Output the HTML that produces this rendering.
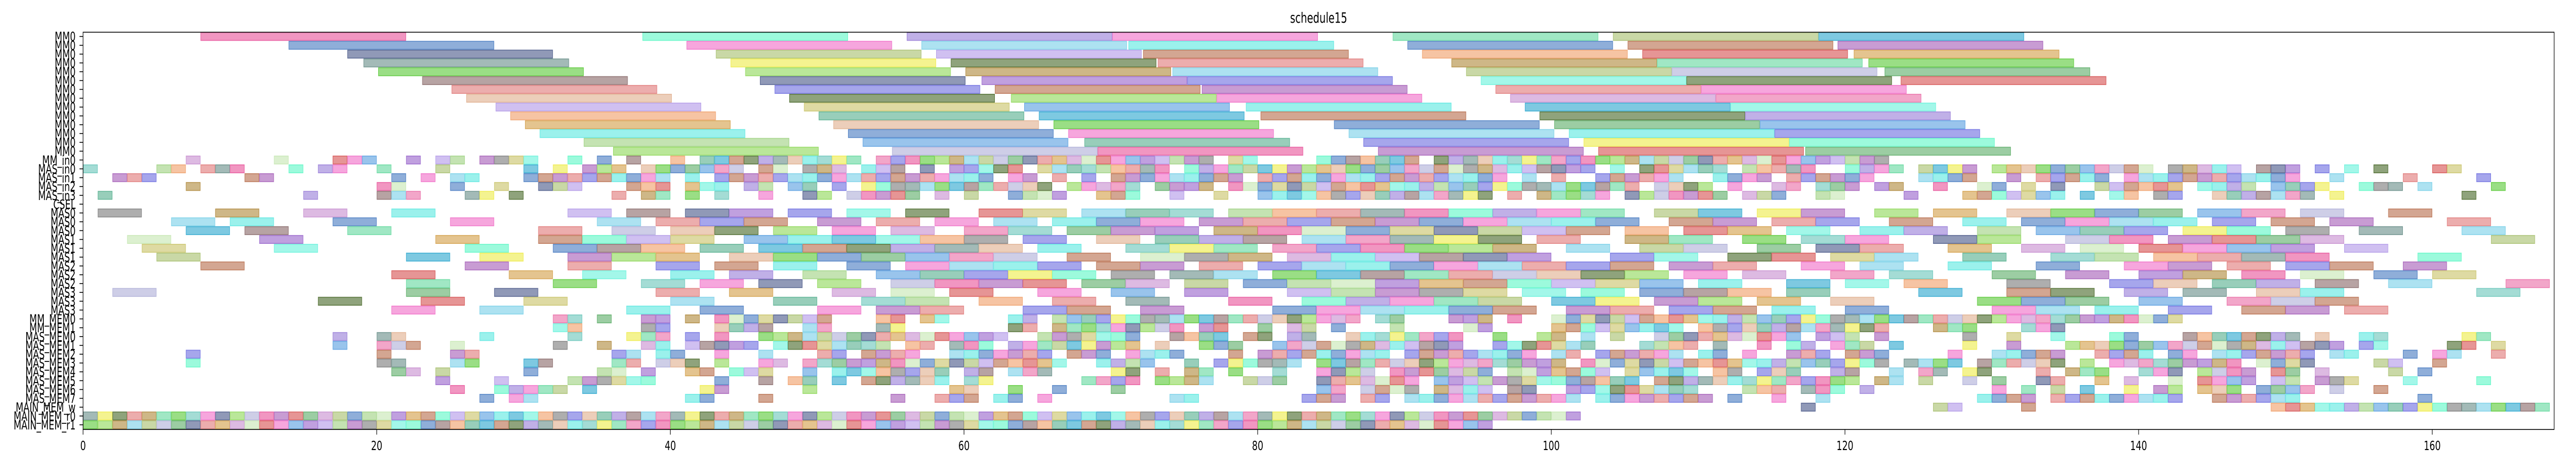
<!DOCTYPE html>
<html><head><meta charset="utf-8"><title>schedule15</title>
<style>
html,body{margin:0;padding:0;background:#fff;width:100%;height:100%;overflow:hidden;}
svg{display:block;width:100vw;height:100vh;font-family:"DejaVu Sans","Liberation Sans",sans-serif;}
</style></head>
<body>
<svg id="chart" viewBox="0 0 7267 900" preserveAspectRatio="none" xmlns="http://www.w3.org/2000/svg">
<text x="3720" y="44" font-size="28" text-anchor="middle">schedule15</text>
<g id="bars"></g>
<g id="axes"></g>
</svg>
<script>
// ---- data ----
const categories = [
 "MM0","MM0","MM0","MM0","MM0","MM0","MM0","MM0","MM0","MM0","MM0","MM0","MM0","MM0",
 "MM_in0","MAS_in0","MAS_in1","MAS_in2","MAS_in3","CSEL",
 "MAS0","MAS0","MAS0","MAS1","MAS1","MAS1","MAS2","MAS2","MAS2","MAS3","MAS3","MAS3",
 "MM_MEM0","MM_MEM1","MAS_MEM0","MAS_MEM1","MAS_MEM2","MAS_MEM3","MAS_MEM4","MAS_MEM5","MAS_MEM6","MAS_MEM7",
 "MAIN_MEM_w","MAIN_MEM_r0","MAIN_MEM_r1"];
const xTicks = [0,20,40,60,80,100,120,140,160];
const xMax = 168.3;
// rows 0-13: long tasks, duration 14
const longDur = 14;
const mmStarts = [
 [8,38.1,56.1,70.1,89.2,104.2,118.2],
 [14,41.1,57.1,71.2,90.2,105.2,119.5],
 [18,43.1,58.1,72.2,91.2,106.2,120.6],
 [19.1,44.1,59.1,73.2,93.2,107.2,121.6],
 [20.1,45.1,60.1,74.2,94.2,108.2,122.7],
 [23.1,46.1,61.2,75.2,95.2,109.2,123.8],
 [25.1,47.1,62.1,76.2,96.2,110.2],
 [26.1,48.1,63.2,77.2,97.2,111.2],
 [28.1,49.1,64.1,79.2,98.2,112.2],
 [29.1,50.1,65.1,80.2,99.2,113.2],
 [30.1,51.1,66.1,85.2,100.2,114.2],
 [31.1,52.1,67.1,86.2,101.2,115.2],
 [34.1,53.1,68.2,87.2,102.2,116.2],
 [36.1,55.1,69.1,88.2,103.2,117.3]
];
// rows 20-31: medium tasks, duration 3
const midDur = 3;
const midStarts = [
 "1,9,15,21,33,37,41,44,48,52,56,61,64,68,71,74,78,81,84,87,90,93,96,99,102,107,110,114,117,122,126,131,134,137,140,144,147,151,157",
 "6,10,17,25,35,39,42,45,50,54,58,62,66,69,72,76,79,82,85,88,91,94,97,100,103,108,111,115,118,123,128,132,135,138,141,145,149,153,161",
 "7,11,18,31,36,40,43,47,51,55,60,63,67,70,73,77,80,83,86,89,92,95,98,101,105,109,112,116,121,124,129,133,136,139,143,146,150,155,162",
 "3,12,24,31,34,37,40,45,48,51,54,57,60,64,69,73,76,79,83,86,89,92,95,99,105,108,113,117,120,126,129,135,138,142,145,148,151,164",
 "4,13,26,32,35,38,42,46,49,52,55,58,61,65,71,74,77,81,84,87,90,93,96,101,106,109,114,118,121,127,132,136,140,143,146,149,154",
 "5,22,27,33,36,39,44,47,50,53,56,59,62,67,72,75,78,82,85,88,91,94,97,104,107,112,115,119,122,128,134,137,141,144,147,150,159",
 "8,26,33,39,43,47,52,56,59,62,65,69,72,76,80,83,86,89,92,95,98,101,104,108,111,117,121,127,133,139,142,146,150,153,158",
 "21,29,34,40,44,49,54,57,60,63,66,70,74,77,81,84,87,90,93,96,99,102,105,109,113,119,123,130,135,140,143,147,151,156,160",
 "22,32,38,42,46,50,55,58,61,64,68,71,75,79,82,85,88,91,94,97,100,103,106,110,116,120,124,131,138,141,145,148,152,157,165",
 "2,22,28,39,44,51,55,59,65,70,75,82,85,88,91,94,98,102,106,109,112,116,125,131,134,139,143,148,151,163",
 "16,23,30,40,47,53,56,61,66,71,78,83,86,89,92,95,100,103,107,110,114,119,129,132,135,140,146,149,152",
 "21,27,37,42,50,54,57,64,67,72,81,84,87,90,93,96,101,104,108,111,115,120,130,133,137,142,147,150,154"
];
// unit tasks (duration 1): rows 14-18 and 32-44
const unitDur = 1;
const unitRowsTop = [
 "7,13,17,18,19,22,24,25,27,28,29,30,33,35,37,40,42-52,54-76,78,79,84-90,92-122",
 "0,5,6,8,9,10,14,16,17,20,24,30,32,34,35,36,38,39,40,41,42,43,44,46,47,49,50,51,53,54,55,57,59-63,65-73,75-83,84-102,104,106-111,113-117,120-123,125,126,127,128,130-140,142-146,148,149,150,152,154,156,160,161",
 "2,3,4,11,12,21,23,25,26,30-39,41,43-61,63,64,66,68,70-78,80-83,84-96,98,100,103-108,111-114,116-121,125,126,127,128,131,133-137,139-150,153,158,163",
 "7,20,21,25,28,31,32,33,37,38,39,41,42,43,45,46,48,49,51,53-65,67-71,73-76,78-83,84-105,107-110,112,115,116,118,119,120,122,123,126,129,130,132,134,137-142,144-147,149-152,155,156,157,159,164",
 "1,15,20,21,22,26,27,29,36,38,39,41,43,46,49,50,52-56,58,60,63-66,69,70,71,74,77,80-83,84-95,97,99-103,105-111,113,114,115,118,119,124,128-134,136,138,139,141,142,145-151,153,162"
];
const unitRowsBottom = [
 "32,33,35,38,39,41,43-50,54,55,57,58,63,64,66-83,84,85,86,88,89,93,94,95,97,100-125,126-142",
 "32,33,38,39,43-46,49,50,54,55,63,64,66-74,76,77,80,82,83,85,89,94,95,100-108,110-122,126,127,128,132,133,134",
 "17,20,21,27,33,37,38,39,41,43,46-62,65-71,74-77,79,80,82,83,86-93,96,99,100,102,104,107-116,118,119,120,122,128,131,134,138,139,143-150,152,155,156,162,163",
 "17,20,21,22,25,32,35,38,39,41,42-45,47-54,56,57,59,60,61,63-71,73,76,77,78,81,82,83,84-93,96-102,106-109,111,114,116,117,119,120,121,123,128,131,135-153,155,156,161,162,164",
 "7,20,25,26,36,37,39,40,43,46,50,51,53-56,59-65,67,68,69,71-74,78,80-83,84-88,90-98,100,101,103-108,110,111,113,116,117,118,120,121,122,127,130-134,137-140,142,143,145-151,153,154,158,160,161,164",
 "7,20,21,25,26,30,31,36,37,39,40,41,43,46,47,49-66,69-72,75,77-82,84-100,102-122,124,125,126,127,129-134,136,138-146,148-151,156,157,160",
 "21,22,24,30,35,36,38,41,42,44,45,46,49,51-58,60,61,63,64,65,70,71,73,75,76,78,81,84-87,89-95,97-103,105-109,111,112,114,115,116,119,120,123,125,126,128,129,133,135,136,137,140,141,142,144-147,149,150,152,157,159",
 "24,28,33-38,43,46,48,49,51,53-58,60,61,68-71,73-76,79,80,81,84-90,92-105,107-120,122,123,125,128,130,133,134,137,139,142,144-147,149,150,152,153,154,158,163",
 "25,28-32,34,42,43,49,59,60,63,66,70,84,85,87-90,92-95,97,98,101-109,113,114,115,117,118,119,121,130,132,134,136,139,141,142,144,145,146,148-151,153,156",
 "27,29,30,41,42,46,55,58,59,60,62,63,65,74,75,83,84,85,87,88,90-101,103-110,112,115,118,129-132,134-142,145-150,159",
 "117,126,127,132,149-167",
 "0-101",
 "0-95"
];
// ---- styling (not data) ----
const palette = ["#e8559b","#5ee8e0","#2ea8cf","#6af2dc","#5cc93a","#6cc7bb","#b8704f","#60f7c6","#b39ae8","#eeeb4c",
 "#4b6a2c","#4a7cc2","#9fd283","#c7e7b3","#9a7fd8","#8a6b6b","#a65fb8","#d65454","#5fae6a","#f0a06b",
 "#7c7c7c","#f070c8","#4c5a8a","#8fd85a","#c9c46a","#5aa0e0","#e07a7a","#b08a3e","#66d9a0","#9966cc",
 "#d4a04a","#7ad0e8","#ea6fa8","#6a8f8a","#c88fd0","#a8c070","#7070e0","#e0b090","#58b090","#b0b0d8"];
function colorFor(r,k){return palette[(r*11+k*7+((r*k)%5)*3)%palette.length];}
const X0=234.3, PX=41.42, TOP=62.5, BOTTOM=833, Y0=70.7, DY=17.12, BH=17.1;
function xs(v){return X0+v*PX;}
function ys(i){return Y0+i*DY;}
function parseList(s){const out=[];s.split(",").forEach(t=>{if(t.indexOf("-")>0){const p=t.split("-");for(let v=+p[0];v<=+p[1];v++)out.push(v);}else out.push(+t);});return out;}
const NS="http://www.w3.org/2000/svg";
const gb=document.getElementById("bars"), ga=document.getElementById("axes");
function bar(row,start,dur,k){
  const c=colorFor(row,k);
  const r=document.createElementNS(NS,"rect");
  r.setAttribute("x",xs(start)+0.8);
  r.setAttribute("y",ys(row)-BH/2+0.8);
  r.setAttribute("width",dur*PX-1.6);
  r.setAttribute("height",BH-1.6);
  r.setAttribute("fill",c);r.setAttribute("fill-opacity","0.62");
  r.setAttribute("stroke",c);r.setAttribute("stroke-opacity","0.85");r.setAttribute("stroke-width","1.6");
  
  
  gb.appendChild(r);
}
mmStarts.forEach((arr,r)=>arr.forEach((s,k)=>bar(r,s,longDur,k)));
unitRowsTop.forEach((s,j)=>parseList(s).forEach((v,k)=>bar(14+j,v,unitDur,k)));
midStarts.forEach((s,j)=>parseList(s).forEach((v,k)=>bar(20+j,v,midDur,k)));
unitRowsBottom.forEach((s,j)=>parseList(s).forEach((v,k)=>bar(32+j,v,unitDur,k)));
// axes frame
const fr=document.createElementNS(NS,"rect");
fr.setAttribute("x",X0);fr.setAttribute("y",TOP);fr.setAttribute("width",xs(xMax)-X0);fr.setAttribute("height",BOTTOM-TOP);
fr.setAttribute("fill","none");fr.setAttribute("stroke","#000");fr.setAttribute("stroke-width","1.6");


ga.appendChild(fr);
xTicks.forEach(t=>{
  const l=document.createElementNS(NS,"line");
  l.setAttribute("x1",xs(t));l.setAttribute("x2",xs(t));l.setAttribute("y1",BOTTOM);l.setAttribute("y2",BOTTOM+10);
  l.setAttribute("stroke","#000");l.setAttribute("stroke-width","1.6");
  
  
  ga.appendChild(l);
  const tx=document.createElementNS(NS,"text");
  tx.setAttribute("x",xs(t));tx.setAttribute("y",BOTTOM+40);tx.setAttribute("font-size","25");tx.setAttribute("text-anchor","middle");
  tx.textContent=t;
  
  
  ga.appendChild(tx);
});
categories.forEach((c,i)=>{
  const l=document.createElementNS(NS,"line");
  l.setAttribute("x1",X0-10);l.setAttribute("x2",X0);l.setAttribute("y1",ys(i));l.setAttribute("y2",ys(i));
  l.setAttribute("stroke","#000");l.setAttribute("stroke-width","1.6");
  
  
  ga.appendChild(l);
  const tx=document.createElementNS(NS,"text");
  tx.setAttribute("x",X0-21);tx.setAttribute("y",ys(i)+9);tx.setAttribute("font-size","25");tx.setAttribute("text-anchor","end");
  tx.textContent=c;
  
  
  ga.appendChild(tx);
});
</script>
</body></html>
